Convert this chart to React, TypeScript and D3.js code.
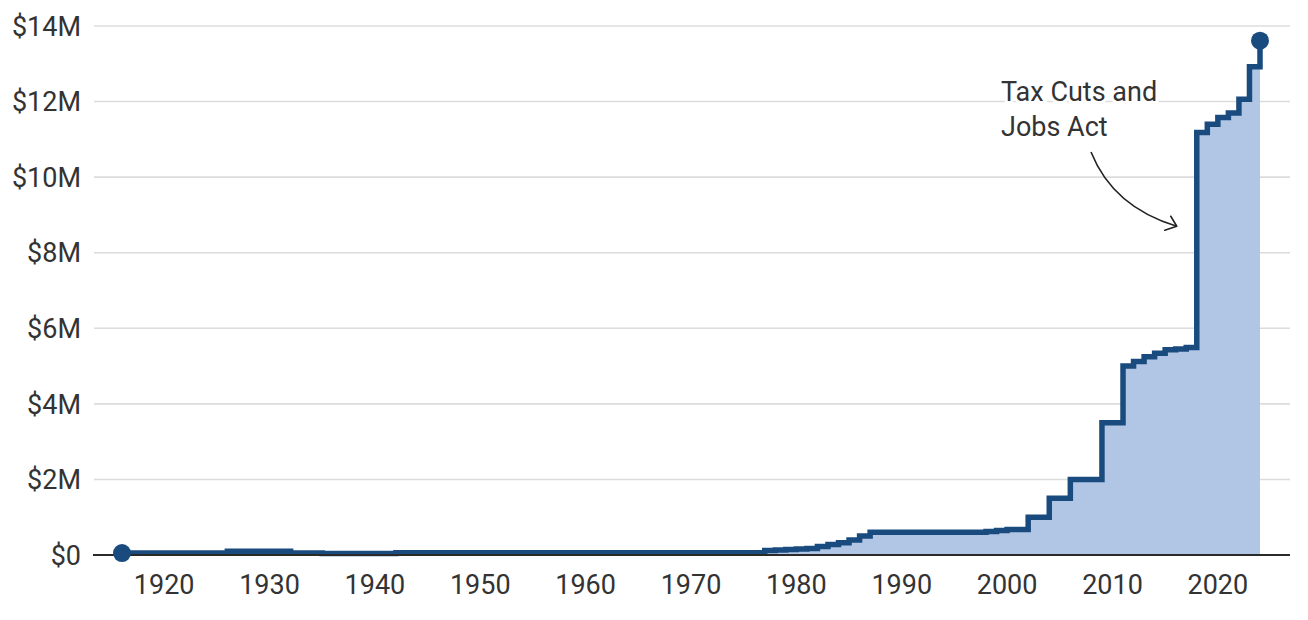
import React from "react";
import * as d3 from "d3";

const years = [1916, 1926, 1932, 1935, 1942, 1977, 1978, 1979, 1980, 1981, 1982, 1983, 1984, 1985, 1986, 1987, 1998, 1999, 2000, 2002, 2004, 2006, 2009, 2011, 2012, 2013, 2014, 2015, 2016, 2017, 2018, 2019, 2020, 2021, 2022, 2023, 2024];
const exemptions = [50000, 100000, 50000, 40000, 60000, 120000, 134000, 147000, 161000, 175000, 225000, 275000, 325000, 400000, 500000, 600000, 625000, 650000, 675000, 1000000, 1500000, 2000000, 3500000, 5000000, 5120000, 5250000, 5340000, 5430000, 5450000, 5490000, 11180000, 11400000, 11580000, 11700000, 12060000, 12920000, 13610000];
const xTicks = [1920, 1930, 1940, 1950, 1960, 1970, 1980, 1990, 2000, 2010, 2020];
const yTicks = [0, 2e6, 4e6, 6e6, 8e6, 10e6, 12e6, 14e6];
const annotationLines = ["Tax Cuts and", "Jobs Act"];

const W = 1308;
const H = 620;
const LINE = "#1a4b7f";
const FILL = "#b0c6e4";
const FONT = "Roboto, 'Noto Sans', sans-serif";
const FS = 27;

export default function App() {
  const data = years.map((y, i) => ({ year: y, value: exemptions[i] }));
  const x = d3.scaleLinear().domain([1916, 2024]).range([122, 1260]);
  const y = d3.scaleLinear().domain([0, 14e6]).range([555, 26]);

  const area = d3
    .area<{ year: number; value: number }>()
    .x((d) => x(d.year))
    .y0(y(0))
    .y1((d) => y(d.value))
    .curve(d3.curveStepAfter);
  const line = d3
    .line<{ year: number; value: number }>()
    .x((d) => x(d.year))
    .y((d) => y(d.value))
    .curve(d3.curveStepAfter);

  const fmt = (v: number) => (v === 0 ? "$0" : `$${v / 1e6}M`);
  const first = data[0];
  const last = data[data.length - 1];

  // annotation anchored to TCJA step (2018)
  const tipX = x(2018) - 20;
  const tipY = y(8.7e6);
  const startX = 1091;
  const startY = 152;

  return (
    <svg
      width={W}
      height={H}
      style={{ position: "absolute", left: 0, top: 0, background: "#fff" }}
      fontFamily={FONT}
    >
      {yTicks.map((t) => (
        <g key={t}>
          {t !== 0 && (
            <line x1={94} x2={1290} y1={y(t)} y2={y(t)} stroke="#dcdcdc" strokeWidth={1.6} />
          )}
          <text x={81} y={y(t)} dy="0.36em" textAnchor="end" fontSize={FS} fill="#333">
            {fmt(t)}
          </text>
        </g>
      ))}
      <path d={area(data) || ""} fill={FILL} />
      <path d={line(data) || ""} fill="none" stroke={LINE} strokeWidth={5.5} strokeLinejoin="miter" />
      <line x1={93} x2={1290} y1={y(0)} y2={y(0)} stroke="#2a2a2a" strokeWidth={2} />
      {xTicks.map((t) => (
        <text key={t} x={x(t)} y={594} textAnchor="middle" fontSize={FS} fill="#333">
          {t}
        </text>
      ))}
      <circle cx={x(first.year)} cy={y(first.value)} r={9} fill={LINE} />
      <circle cx={x(last.year)} cy={y(last.value)} r={9} fill={LINE} />
      {annotationLines.map((s, i) => (
        <text
          key={s}
          x={1001}
          y={101 + i * 35}
          fontSize={FS}
          fill="#333"
          stroke="#fff"
          strokeWidth={6}
          paintOrder="stroke"
        >
          {s}
        </text>
      ))}
      <path
        d={`M${startX},${startY} Q${startX + 22},${startY + 55} ${tipX},${tipY}`}
        fill="none"
        stroke="#222"
        strokeWidth={1.6}
      />
      <path
        d={`M${tipX - 6},${tipY - 10} L${tipX},${tipY} L${tipX - 12},${tipY + 4}`}
        fill="none"
        stroke="#222"
        strokeWidth={1.6}
        strokeLinecap="round"
        strokeLinejoin="round"
      />
    </svg>
  );
}
